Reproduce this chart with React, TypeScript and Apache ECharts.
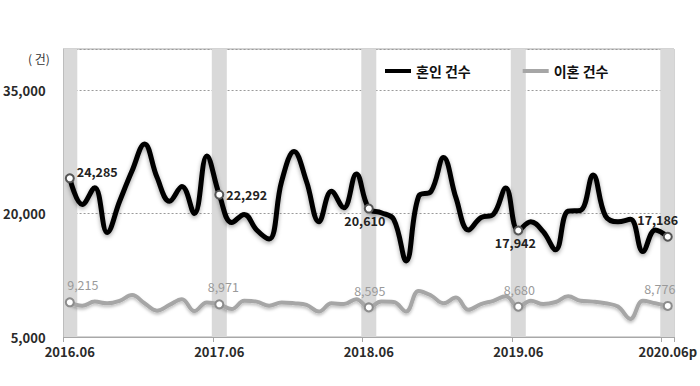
import React, { useEffect, useRef } from "react";
import * as echarts from "echarts";

const categories = [
  "2016.06", "2016.07", "2016.08", "2016.09", "2016.10", "2016.11", "2016.12",
  "2017.01", "2017.02", "2017.03", "2017.04", "2017.05", "2017.06", "2017.07", "2017.08", "2017.09", "2017.10", "2017.11", "2017.12",
  "2018.01", "2018.02", "2018.03", "2018.04", "2018.05", "2018.06", "2018.07", "2018.08", "2018.09", "2018.10", "2018.11", "2018.12",
  "2019.01", "2019.02", "2019.03", "2019.04", "2019.05", "2019.06", "2019.07", "2019.08", "2019.09", "2019.10", "2019.11", "2019.12",
  "2020.01", "2020.02", "2020.03", "2020.04", "2020.05", "2020.06p",
];

const marriage = [
  24285, 21100, 23150, 17700, 21500, 25200, 28450, 24400, 21500, 23300, 20000, 27000, 22292,
  18900, 19900, 18000, 16900, 23900, 27550, 23900, 19000, 22700, 20700, 24800, 20610,
  20100, 19300, 14250, 22100, 22700, 26800, 21900, 18000, 19500, 19900, 23100, 17942,
  19000, 17800, 15600, 20300, 20400, 24700, 19700, 19000, 19300, 15400, 18000, 17186,
];

const divorce = [
  9215, 8800, 9300, 9100, 9400, 10100, 9100, 8200, 8900, 9600, 8150, 9200, 8971,
  8400, 9400, 9300, 8800, 9200, 9100, 8900, 8100, 9100, 9000, 9600, 8595,
  9300, 9250, 8100, 10600, 10050, 9100, 9800, 8300, 9000, 9400, 9950, 8680,
  9400, 9000, 9250, 9950, 9400, 9300, 9100, 8700, 7200, 9400, 9100, 8776,
];

const juneIdx = [0, 12, 24, 36, 48];
const seriesNames = ["혼인 건수", "이혼 건수"];
const yTicks = { min: 5000, max: 40000, interval: 15000 };

const FONT = "'Noto Sans CJK KR', 'Noto Sans', sans-serif";
const MARRIAGE_COLOR = "#000";
const DIVORCE_COLOR = "#a6a6a6";

const marriageLabel: Record<number, any> = {
  0: { position: "right", offset: [-3, -7] },
  12: { position: "right", offset: [-3, 0] },
  24: { position: "bottom", offset: [-4, -4] },
  36: { position: "bottom", offset: [-3, -4] },
  48: { position: "top", offset: [-10, -1] },
};
const divorceLabel: Record<number, any> = {
  0: { position: "top", offset: [13, -2] },
  12: { position: "top", offset: [4, -2] },
  24: { position: "top", offset: [1, -1] },
  36: { position: "top", offset: [1, -1] },
  48: { position: "top", offset: [-8, -1] },
};

function fmt(v: number) {
  return v.toLocaleString("en-US");
}

export default function App() {
  const ref = useRef<HTMLDivElement>(null);
  useEffect(() => {
    if (!ref.current) return;
    const chart = echarts.init(ref.current, null, { renderer: "svg" });

    const mData = marriage.map((v, i) =>
      juneIdx.includes(i)
        ? {
            value: v,
            symbol: "circle",
            symbolSize: 8,
            itemStyle: { color: "#fff", borderColor: "#555", borderWidth: 2 },
            label: {
              show: true,
              ...marriageLabel[i],
              formatter: () => fmt(v),
              color: "#222",
              fontWeight: "bold",
              fontSize: 12.5,
              fontFamily: FONT,
            },
          }
        : { value: v, symbol: "none" }
    );
    const dData = divorce.map((v, i) =>
      juneIdx.includes(i)
        ? {
            value: v,
            symbol: "circle",
            symbolSize: 8,
            itemStyle: { color: "#fff", borderColor: "#8c8c8c", borderWidth: 2 },
            label: {
              show: true,
              ...divorceLabel[i],
              formatter: () => fmt(v),
              color: "#9a9a9a",
              fontSize: 12.5,
              fontFamily: FONT,
            },
          }
        : { value: v, symbol: "none" }
    );
    const bandData = categories.map((_, i) => (juneIdx.includes(i) ? 1 : "-"));

    chart.setOption({
      animation: false,
      backgroundColor: "#fff",
      textStyle: { fontFamily: FONT },
      grid: {
        left: 60,
        right: 21,
        top: 49,
        bottom: 49,
        show: true,
        borderColor: "#a8a8a8",
        borderWidth: 1,
        backgroundColor: "transparent",
      },
      legend: {
        data: [
          { name: seriesNames[0], itemStyle: { color: MARRIAGE_COLOR, borderWidth: 0 } },
          { name: seriesNames[1], itemStyle: { color: DIVORCE_COLOR, borderWidth: 0 } },
        ],
        left: 380,
        top: 59,
        icon: "rect",
        itemWidth: 26,
        itemHeight: 4,
        itemGap: 52,
        textStyle: { fontSize: 14, fontWeight: "bold", color: "#111", fontFamily: FONT },
      },
      xAxis: {
        type: "category",
        data: categories,
        boundaryGap: true,
        axisLine: { show: true, lineStyle: { color: "#a8a8a8", width: 1 } },
        axisTick: {
          show: true,
          interval: (i: number) => i % 12 === 0,
          length: 5,
          lineStyle: { color: "#a8a8a8" },
        },
        axisLabel: {
          interval: (i: number) => i % 12 === 0,
          fontSize: 13,
          fontWeight: "bold",
          color: "#2a2a2a",
          fontFamily: FONT,
          margin: 8,
        },
        splitLine: { show: false },
      },
      yAxis: [
        {
          type: "value",
          min: yTicks.min,
          max: yTicks.max,
          interval: yTicks.interval,
          axisLine: { show: true, lineStyle: { color: "#a8a8a8" } },
          axisTick: { show: false },
          axisLabel: {
            showMaxLabel: false,
            formatter: (v: number) => fmt(v),
            fontSize: 13,
            fontWeight: "bold",
            color: "#2a2a2a",
            fontFamily: FONT,
            margin: 18,
          },
          splitLine: { show: true, lineStyle: { color: "#9a9a9a", type: [2, 2], width: 1 } },
        },
        { type: "value", min: 0, max: 1, show: false },
      ],
      graphic: [
        {
          type: "text",
          left: 28,
          top: 52,
          style: { text: "( 건)", fontSize: 12, fill: "#333", fontFamily: FONT },
        },
      ],
      series: [
        {
          type: "bar",
          yAxisIndex: 1,
          data: bandData,
          barWidth: 15,
          itemStyle: { color: "#d9d9d9" },
          silent: true,
          z: 0,
        },
        {
          name: seriesNames[1],
          type: "line",
          data: dData,
          smooth: 0.4,
          lineStyle: {
            color: DIVORCE_COLOR,
            width: 4,
            shadowColor: "rgba(0,0,0,0.25)",
            shadowBlur: 3,
            shadowOffsetY: 2,
          },
          itemStyle: { color: DIVORCE_COLOR },
          z: 3,
        },
        {
          name: seriesNames[0],
          type: "line",
          data: mData,
          smooth: 0.4,
          lineStyle: {
            color: MARRIAGE_COLOR,
            width: 5,
            shadowColor: "rgba(0,0,0,0.35)",
            shadowBlur: 4,
            shadowOffsetY: 2,
          },
          itemStyle: { color: MARRIAGE_COLOR },
          z: 4,
        },
      ],
    });
    return () => chart.dispose();
  }, []);

  return (
    <div
      ref={ref}
      style={{ position: "absolute", left: 0, top: 0, width: 700, height: 386, background: "#fff" }}
    />
  );
}
